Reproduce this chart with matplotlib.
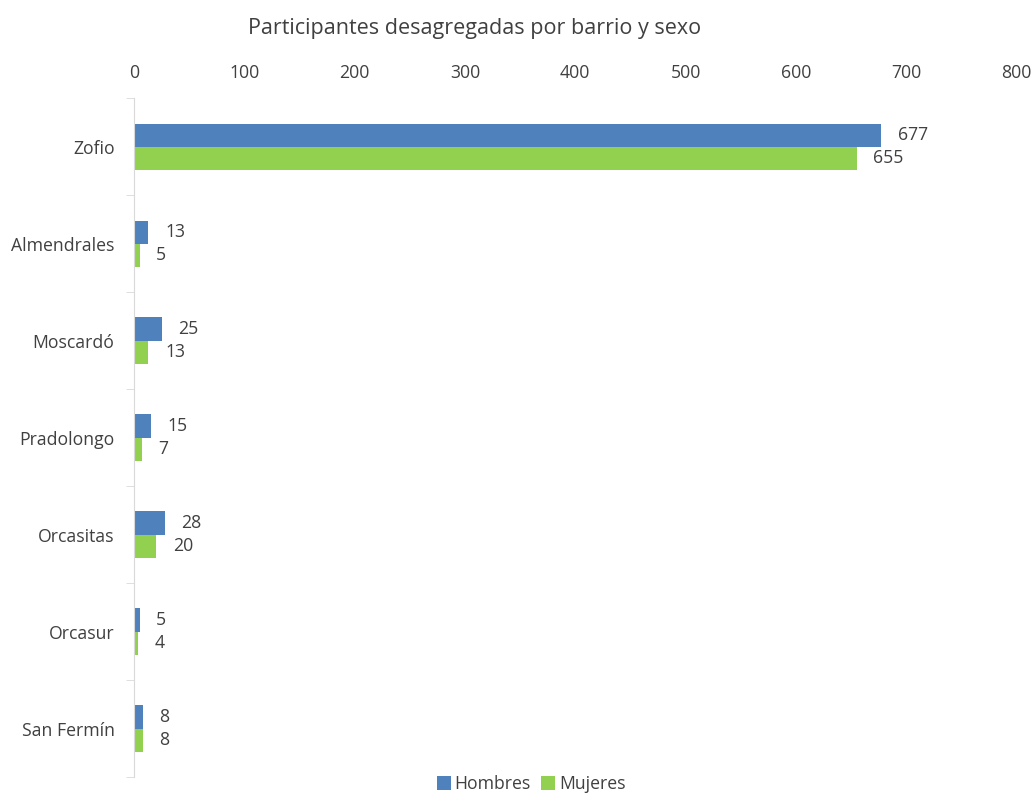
import numpy as np
import matplotlib.pyplot as plt

barrios = ["Zofio", "Almendrales", "Moscardó", "Pradolongo", "Orcasitas", "Orcasur", "San Fermín"]
hombres = [677, 13, 25, 15, 28, 5, 8]
mujeres = [655, 5, 13, 7, 20, 4, 8]
xticks = [0, 100, 200, 300, 400, 500, 600, 700, 800]

txt = "#404040"
plt.rcParams["font.family"] = ["Open Sans", "DejaVu Sans"]

fig = plt.figure(figsize=(10.31, 7.93), dpi=100)
ax = fig.add_axes([0.13, 0.02, 0.856, 0.856])

y = np.arange(len(barrios))
h = 0.24
b1 = ax.barh(y - h / 2, hombres, height=h, color="#4F81BD", label="Hombres")
b2 = ax.barh(y + h / 2, mujeres, height=h, color="#92D050", label="Mujeres")
ax.bar_label(b1, padding=12, fontsize=12.7, color=txt)
ax.bar_label(b2, padding=12, fontsize=12.7, color=txt)

ax.set_xlim(0, 800)
ax.set_ylim(len(barrios) - 0.5, -0.5)
ax.set_xticks(xticks)
ax.xaxis.tick_top()
ax.tick_params(axis="x", length=0, labelsize=12.7, labelcolor=txt, pad=12)
ax.set_yticks(y)
ax.set_yticklabels(barrios)
ax.tick_params(axis="y", length=0, labelsize=12.7, labelcolor=txt, pad=14)
ax.set_yticks(np.arange(len(barrios) + 1) - 0.5, minor=True)
ax.tick_params(axis="y", which="minor", length=6, color="#D9D9D9")

for s in ["top", "right", "bottom"]:
    ax.spines[s].set_visible(False)
ax.spines["left"].set_color("#D9D9D9")

fig.text(0.46, 0.964, "Participantes desagregadas por barrio y sexo", ha="center", va="center",
         fontsize=15.5, color=txt)
fig.legend(loc="center", bbox_to_anchor=(0.515, 0.011), ncol=2, frameon=False, fontsize=12.7,
           handlelength=0.8, handleheight=0.8, handletextpad=0.2, columnspacing=0.6,
           labelcolor=txt)

fig.savefig("out.png", dpi=100)
